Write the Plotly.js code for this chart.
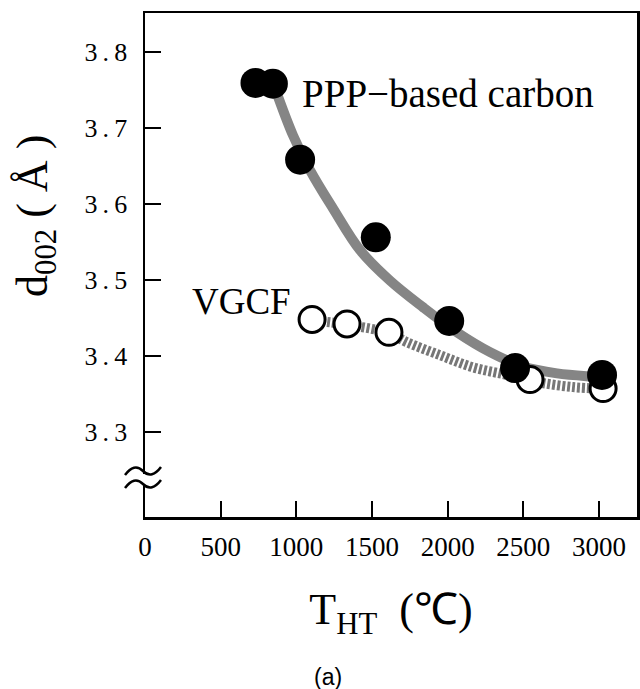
<!DOCTYPE html>
<html>
<head>
<meta charset="utf-8">
<script src="https://cdn.plot.ly/plotly-3.0.1.min.js"></script>
<style>html,body{margin:0;padding:0;background:#fff;}#chart{width:640px;height:689px;}</style>
</head>
<body>
<div id="chart"></div>
<script>
// ---- data ----
const T_ppp = [730, 845, 1025, 1525, 2010, 2445, 3020];
const d_ppp = [3.759, 3.758, 3.658, 3.556, 3.446, 3.384, 3.375];
const T_vgcf = [1104, 1335, 1612, 2544, 3027];
const d_vgcf = [3.448, 3.442, 3.431, 3.369, 3.357];
const T_pppCurve = [859, 978, 1091, 1242, 1421, 1619, 1837, 2062, 2280, 2498, 2723, 2941, 3040];
const d_pppCurve = [3.752, 3.690, 3.644, 3.594, 3.539, 3.499, 3.464, 3.431, 3.405, 3.386, 3.377, 3.373, 3.372];
const T_vgcfCurve = [1104, 1335, 1612, 1731, 1949, 2167, 2392, 2610, 2828, 3007];
const d_vgcfCurve = [3.447, 3.441, 3.430, 3.418, 3.401, 3.385, 3.375, 3.365, 3.359, 3.357];
const xTicks = [0, 500, 1000, 1500, 2000, 2500, 3000];
const yTicks = [3.3, 3.4, 3.5, 3.6, 3.7, 3.8];
const seriesNames = ['PPP\u2212based carbon', 'VGCF'];

const W = 640, H = 689;
const M = {l: 145, r: 3, t: 13, b: 172};
const pw = W - M.l - M.r, ph = H - M.t - M.b;
function px2paperX(px) { return (px - M.l) / pw; }
function px2paperY(py) { return (H - M.b - py) / ph; }

const serif = 'Liberation Serif';
const gray = '#858585';
const dashGray = '#777777';

const traces = [
  {x: T_vgcfCurve, y: d_vgcfCurve, mode: 'lines', line: {color: dashGray, width: 10, dash: '3px,2px', shape: 'spline', smoothing: 1}, hoverinfo: 'skip', showlegend: false},
  {x: T_pppCurve, y: d_pppCurve, mode: 'lines', line: {color: gray, width: 10, shape: 'spline', smoothing: 1}, hoverinfo: 'skip', showlegend: false},
  {x: T_vgcf, y: d_vgcf, mode: 'markers', name: seriesNames[1], marker: {symbol: 'circle', size: 26, color: '#ffffff', line: {color: '#000000', width: 3}}, showlegend: false},
  {x: T_ppp, y: d_ppp, mode: 'markers', name: seriesNames[0], marker: {symbol: 'circle', size: 30, color: '#000000', line: {width: 0}}, showlegend: false}
];

// axis-break symbol (decoration)
function wave(x0, y0) {
  const P = (dx, dy) => px2paperX(x0 + dx) + ',' + px2paperY(y0 + dy);
  return 'M' + P(0, 4) + ' C' + P(6, -4) + ' ' + P(12, -6) + ' ' + P(18, 0) +
         ' C' + P(24, 6) + ' ' + P(30, 4) + ' ' + P(36, -4);
}
const shapes = [
  {type: 'rect', xref: 'paper', yref: 'paper', x0: px2paperX(140), x1: px2paperX(150), y0: px2paperY(485), y1: px2paperY(474),
   fillcolor: '#ffffff', line: {width: 0}, layer: 'above'},
  {type: 'path', xref: 'paper', yref: 'paper', path: wave(125, 471), line: {color: '#000', width: 2.5}, layer: 'above'},
  {type: 'path', xref: 'paper', yref: 'paper', path: wave(125, 484), line: {color: '#000', width: 2.5}, layer: 'above'}
];

const layout = {
  width: W, height: H,
  margin: M,
  font: {family: serif, size: 26, color: '#000000'},
  paper_bgcolor: '#ffffff', plot_bgcolor: '#ffffff',
  showlegend: false,
  xaxis: {
    range: [0, 3251], showgrid: false, zeroline: false,
    showline: true, linecolor: '#000', linewidth: 2.5, mirror: true,
    ticks: 'inside', ticklen: 16, tickwidth: 2, tickcolor: '#000',
    tickmode: 'array', tickvals: xTicks, ticktext: xTicks.map(String),
    tickfont: {family: serif, size: 27, color: '#000000'},
    ticklabelstandoff: 4,
    title: {text: 'T<sub>HT</sub>  (\u2103)', font: {family: serif, size: 44, color: '#000'}, standoff: 33}
  },
  yaxis: {
    range: [3.1882, 3.8509], showgrid: false, zeroline: false,
    showline: true, linecolor: '#000', linewidth: 2.5, mirror: true,
    ticks: 'inside', ticklen: 16, tickwidth: 2, tickcolor: '#000',
    tickmode: 'array', tickvals: yTicks, ticktext: yTicks.map(v => v.toFixed(1).replace('.', '\u2009.\u2009')),
    tickfont: {family: serif, size: 26, color: '#000000'},
    ticklabelstandoff: 10
  },
  shapes: shapes,
  annotations: [
    {xref: 'x', yref: 'y', x: 1025, y: 3.745, xanchor: 'left', yanchor: 'middle', showarrow: false,
     text: seriesNames[0], font: {family: serif, size: 39, color: '#000'}},
    {xref: 'x', yref: 'y', x: 297, y: 3.472, xanchor: 'left', yanchor: 'middle', showarrow: false,
     text: seriesNames[1], font: {family: serif, size: 37, color: '#000'}},
    {xref: 'paper', yref: 'paper', x: px2paperX(35), y: px2paperY(216), xanchor: 'center', yanchor: 'middle', showarrow: false,
     textangle: -90, text: 'd<sub>002</sub> ( \u00C5 )', font: {family: serif, size: 44, color: '#000'}},
    {xref: 'paper', yref: 'paper', x: px2paperX(328), y: px2paperY(677), xanchor: 'center', yanchor: 'middle', showarrow: false,
     text: '(a)', font: {family: 'Liberation Sans', size: 23, color: '#000'}}
  ]
};

Plotly.newPlot('chart', traces, layout, {staticPlot: true, displayModeBar: false});
</script>
</body>
</html>
